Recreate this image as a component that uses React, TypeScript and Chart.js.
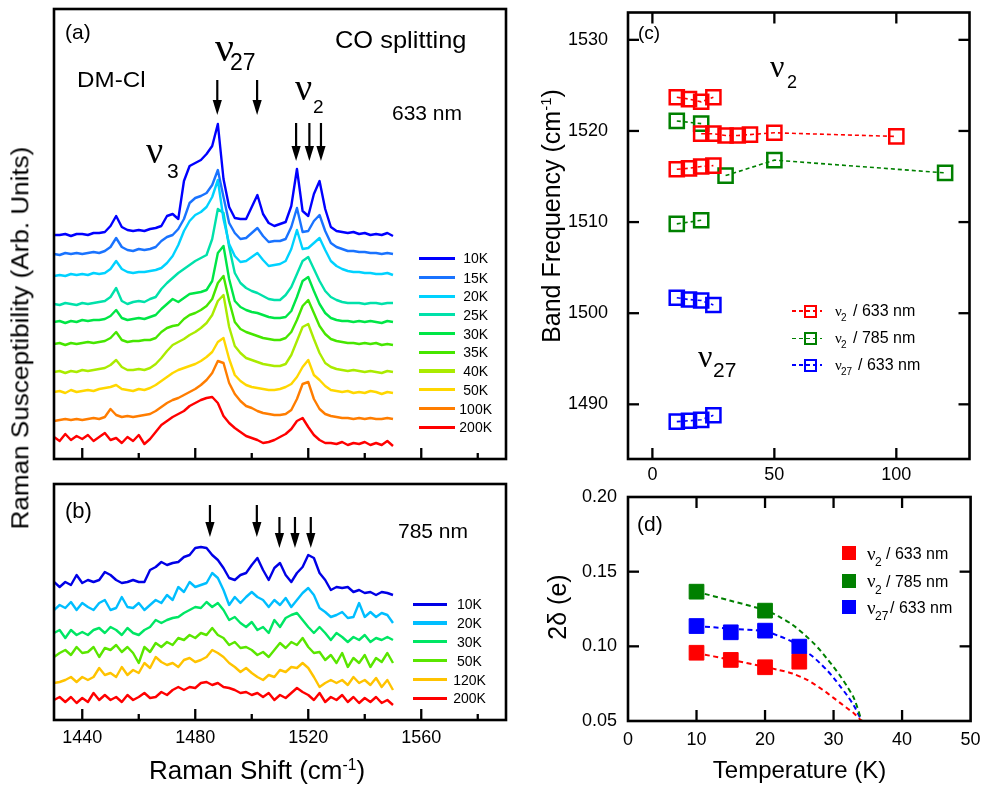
import React, { useEffect, useRef } from "react";
import { Chart, registerables } from "chart.js";

Chart.register(...registerables);

const FONT = "'Liberation Sans', Arial, Helvetica, sans-serif";
const NU_FONT = "'Liberation Serif', 'Times New Roman', serif";
const FIG_W = 982;
const FIG_H = 787;

// ---------------- Panels (a)/(b): Raman shift grid (cm^-1) ----------------
const ramanX = [
  1430, 1432, 1434, 1436, 1438, 1440, 1442, 1444, 1446, 1448,
  1450, 1452, 1454, 1456, 1458, 1460, 1462, 1464, 1466, 1468,
  1470, 1472, 1474, 1476, 1478, 1480, 1482, 1484, 1486, 1488,
  1490, 1492, 1494, 1496, 1498, 1500, 1502, 1504, 1506, 1508,
  1510, 1512, 1514, 1516, 1518, 1520, 1522, 1524, 1526, 1528,
  1530, 1532, 1534, 1536, 1538, 1540, 1542, 1544, 1546, 1548,
  1550,
];
const ramanMajorTicks = [1440, 1480, 1520, 1560];
const ramanMinorTicks = [1460, 1500, 1540, 1580];

// Panel (a): 633 nm spectra (arb. units, stacked with offsets)
const labelsA = ["10K", "15K", "20K", "25K", "30K", "35K", "40K", "50K", "100K", "200K"];
const colorsA = [
  "rgb(0,0,255)", "rgb(25,115,255)", "rgb(0,210,255)", "rgb(0,225,170)", "rgb(0,230,70)",
  "rgb(70,230,0)", "rgb(170,235,0)", "rgb(255,215,0)", "rgb(255,125,0)", "rgb(255,0,0)",
];
const a10K = [224,224,225,223,225,225,224,226,226,227,233,243,232,229,228,229,228,230,231,233,243,245,240,278,293,296,299,305,313,335,280,252,241,240,240,252,264,245,236,233,235,237,253,290,248,243,265,278,250,232,228,227,226,227,225,226,224,225,224,226,223];
const a15K = [205,204,206,205,206,205,206,207,206,208,212,221,212,209,208,210,209,210,212,218,222,224,230,240,256,261,263,266,274,289,262,236,226,220,221,226,231,223,217,218,218,220,232,251,227,228,238,244,228,216,212,210,208,208,207,207,206,206,205,206,205];
const a20K = [183,184,183,185,184,185,184,186,185,186,190,198,190,187,186,187,187,188,189,191,196,203,214,228,238,244,247,252,262,279,240,215,203,197,198,202,206,199,193,194,195,198,210,229,210,211,216,221,209,198,193,190,188,187,187,186,186,185,185,186,184];
const a25K = [155,154,156,155,154,156,155,156,157,158,162,171,158,155,157,158,157,160,162,170,176,181,186,190,194,198,201,204,220,250,246,212,186,176,171,168,166,163,160,159,159,164,172,185,198,202,190,178,168,162,159,157,156,156,156,155,156,156,155,156,156];
const a30K = [137,138,136,138,137,139,138,139,139,140,143,149,141,139,140,141,140,142,144,150,155,160,157,161,165,166,167,169,178,206,213,180,158,152,149,147,146,144,142,141,141,142,148,162,178,182,168,155,146,141,139,138,138,137,138,137,138,137,136,138,137];
const a35K = [115,116,114,116,115,116,117,116,117,118,121,127,119,117,118,118,119,119,121,127,131,133,134,140,144,146,149,153,160,176,183,158,137,130,127,125,123,121,120,119,119,121,127,139,153,159,146,133,125,120,118,117,116,116,115,116,115,116,114,115,114];
const a40K = [87,88,86,88,87,89,88,89,90,91,94,99,92,89,89,90,89,91,95,101,108,114,117,120,124,127,131,136,144,158,164,132,113,106,101,99,97,95,94,93,93,95,104,118,132,135,120,106,96,92,90,89,88,89,88,87,88,87,86,88,87];
const a50K = [67,68,66,69,67,68,69,68,70,71,72,74,70,69,68,70,69,71,74,78,82,86,89,91,93,95,98,102,107,117,121,100,84,78,74,72,71,70,69,69,70,72,75,82,92,99,84,79,73,69,68,67,68,66,67,66,68,67,65,67,66];
const a100K = [38,39,40,39,40,39,40,41,40,42,50,44,42,43,42,43,44,45,48,52,56,59,61,64,67,70,74,79,86,98,96,76,65,58,53,51,48,46,45,44,44,45,49,60,75,77,60,50,45,43,42,41,41,40,41,40,41,40,40,41,40];
const a200K = [22,18,25,19,23,20,24,18,22,26,19,21,16,22,18,24,15,20,27,34,38,42,45,48,53,56,59,61,62,56,43,36,31,27,23,21,19,16,17,19,22,25,30,38,41,32,24,19,16,16,15,17,14,16,15,17,14,16,14,18,13];
const seriesA = [a10K, a15K, a20K, a25K, a30K, a35K, a40K, a50K, a100K, a200K];

// Panel (b): 785 nm spectra
const labelsB = ["10K", "20K", "30K", "50K", "120K", "200K"];
const colorsB = ["rgb(0,0,230)", "rgb(0,190,255)", "rgb(0,230,100)", "rgb(90,230,0)", "rgb(255,195,0)", "rgb(255,0,0)"];
const b10K = [138,133,138,135,145,137,140,138,140,148,145,140,137,138,140,138,138,150,153,158,155,157,158,163,165,172,173,172,165,160,152,142,140,145,147,155,162,150,140,152,157,145,138,147,153,165,162,147,140,130,133,132,133,128,130,127,128,125,128,127,125];
const b20K = [110,115,112,118,110,117,113,110,117,120,110,112,123,113,112,117,110,115,120,117,125,120,133,128,138,133,135,137,147,142,130,115,123,117,123,128,123,120,113,120,115,122,113,120,127,132,125,112,108,103,105,108,102,103,117,103,108,103,107,105,97];
const b30K = [87,90,82,90,85,88,85,90,92,87,93,90,85,92,87,85,90,93,100,97,100,102,103,107,110,113,112,118,113,117,110,100,103,97,93,98,90,93,87,100,93,102,105,107,100,93,87,93,87,80,87,83,78,83,80,85,78,82,80,83,80];
const b50K = [63,67,70,65,73,67,68,73,63,72,70,75,68,73,67,57,73,68,77,73,78,75,82,80,85,82,87,85,92,85,82,75,78,72,73,70,65,68,63,70,77,72,78,75,82,73,67,68,60,65,57,67,53,62,57,65,53,62,58,67,57];
const b120K = [37,38,40,43,38,43,40,43,52,45,47,43,53,45,50,47,57,52,63,58,55,57,53,60,62,58,60,63,70,67,63,57,53,48,52,47,43,40,45,43,50,48,53,52,57,52,43,33,37,40,37,40,35,43,37,40,35,42,33,40,30];
const b200K = [20,23,18,23,17,22,18,27,20,25,20,23,18,25,20,23,27,22,23,28,25,30,33,30,33,32,37,38,35,37,33,32,30,27,28,25,27,23,27,20,25,22,27,32,28,25,20,27,18,23,20,25,18,23,17,22,18,23,17,20,15];
const seriesB = [b10K, b20K, b30K, b50K, b120K, b200K];

// Arrow annotations (x in cm^-1, tail / tip in plot units)
const arrowsAX = [1487.8, 1501.9, 1515.7, 1520.4, 1524.5];
const arrowsATail = [379, 379, 336, 336, 336];
const arrowsATip = [344, 344, 298, 298, 298];
const arrowsBX = [1485.2, 1501.8, 1509.8, 1515.3, 1520.9];
const arrowsBTail = [215, 215, 203, 203, 203];
const arrowsBTip = [183, 183, 172, 172, 172];

// ---------------- Panel (c): band frequency vs temperature ----------------
const RED = "#ff0000";
const GREEN = "#008000";
const BLUE = "#0000ff";
const cTicksX = [0, 50, 100];
const cTicksY = [1490, 1500, 1510, 1520, 1530];
const c633UpperT = [10, 15, 20, 25];
const c633Upper = [1523.7, 1523.5, 1523.2, 1523.7];
const c633MidT = [20, 25, 30, 35, 40, 50, 100];
const c633Mid = [1519.7, 1519.7, 1519.5, 1519.5, 1519.6, 1519.8, 1519.4];
const c633LowT = [10, 15, 20, 25];
const c633Low = [1515.8, 1515.9, 1516.1, 1516.2];
const c785UpperT = [10, 20];
const c785Upper = [1521.1, 1520.8];
const c785MidT = [30, 50, 120];
const c785Mid = [1515.1, 1516.8, 1515.4];
const c785LowT = [10, 20];
const c785Low = [1509.8, 1510.2];
const c27UpperT = [10, 15, 20, 25];
const c27Upper = [1501.7, 1501.5, 1501.4, 1500.9];
const c27LowT = [10, 15, 20, 25];
const c27Low = [1488.1, 1488.2, 1488.3, 1488.8];

// ---------------- Panel (d): 2 delta vs temperature ----------------
const dTicksX = [0, 10, 20, 30, 40, 50];
const dTicksY = [0.05, 0.1, 0.15, 0.2];
const dT633 = [10, 15, 20, 25];
const d2v633 = [0.0957, 0.0909, 0.086, 0.0897];
const dT785 = [10, 20];
const d2v785 = [0.1366, 0.1239];
const dT27 = [10, 15, 20, 25];
const d27v633 = [0.1136, 0.1094, 0.1105, 0.0998];
const fitT = [10, 15, 20, 22, 24, 26, 27, 28, 29, 30, 31, 32, 33, 34.1];
const fit2v633 = [0.0955, 0.091, 0.0862, 0.0842, 0.0818, 0.0779, 0.0752, 0.0722, 0.069, 0.0655, 0.062, 0.0585, 0.055, 0.05];
const fit2v785 = [0.1366, 0.1305, 0.1242, 0.12, 0.1145, 0.1068, 0.1025, 0.0976, 0.092, 0.0862, 0.08, 0.073, 0.065, 0.05];
const fit27v633 = [0.1136, 0.1118, 0.11, 0.107, 0.103, 0.0964, 0.093, 0.0888, 0.0842, 0.079, 0.073, 0.067, 0.06, 0.05];

// ---------------- helpers ----------------
type Rect = { L: number; T: number; R: number; B: number };
const rectA: Rect = { L: 54, T: 9, R: 506, B: 459 };
const rectB: Rect = { L: 54, T: 484, R: 506, B: 720 };
const rectC: Rect = { L: 628, T: 9, R: 970, B: 459 };
const rectD: Rect = { L: 628, T: 497, R: 971, B: 721 };

const padFor = (r: Rect, leftW: number, bottomH: number) => ({
  left: r.L - leftW,
  top: r.T,
  right: FIG_W - r.R,
  bottom: FIG_H - r.B - bottomH,
});

const framePlugin = {
  id: "frameTicks",
  afterDatasetsDraw(chart: any, _args: any, opts: any) {
    const { ctx, chartArea: a, scales } = chart;
    const xs = scales.x;
    const ys = scales.y;
    ctx.save();
    ctx.strokeStyle = "#000";
    ctx.fillStyle = "#000";
    ctx.lineCap = "butt";
    ctx.setLineDash([]);
    const seg = (x1: number, y1: number, x2: number, y2: number) => {
      ctx.beginPath();
      ctx.moveTo(x1, y1);
      ctx.lineTo(x2, y2);
      ctx.stroke();
    };
    ctx.lineWidth = 2.3;
    const xT = (vals: number[], len: number) => {
      for (const v of vals) {
        const px = xs.getPixelForValue(v);
        if (opts.xBottom) seg(px, a.bottom, px, a.bottom - len);
        if (opts.xTop) seg(px, a.top, px, a.top + len);
      }
    };
    const yT = (vals: number[], len: number) => {
      for (const v of vals) {
        const py = ys.getPixelForValue(v);
        if (opts.yLeft) seg(a.left, py, a.left + len, py);
        if (opts.yRight) seg(a.right, py, a.right - len, py);
      }
    };
    xT(opts.xMajor || [], 11);
    xT(opts.xMinor || [], 6);
    yT(opts.yMajor || [], 11);
    const ax: number[] = opts.arrowX || [];
    const at: number[] = opts.arrowTail || [];
    const ap: number[] = opts.arrowTip || [];
    for (let i = 0; i < ax.length; i++) {
      const px = xs.getPixelForValue(ax[i]);
      const p0 = ys.getPixelForValue(at[i]);
      const p1 = ys.getPixelForValue(ap[i]);
      ctx.lineWidth = 2.2;
      seg(px, p0, px, p1 - 12);
      ctx.beginPath();
      ctx.moveTo(px - 4.6, p1 - 15);
      ctx.lineTo(px + 4.6, p1 - 15);
      ctx.lineTo(px, p1);
      ctx.closePath();
      ctx.fill();
    }
    ctx.lineWidth = 2.6;
    ctx.lineJoin = "miter";
    ctx.strokeRect(a.left, a.top, a.right - a.left, a.bottom - a.top);
    ctx.restore();
  },
};

const common = {
  responsive: false,
  maintainAspectRatio: false,
  animation: false,
  devicePixelRatio: 1,
  events: [] as string[],
};

const hiddenScale = (min: number, max: number) => ({ type: "linear", min, max, display: false });

const labelScale = (
  min: number,
  max: number,
  ticks: number[],
  size: number,
  padding: number,
  fixed: number,
  isX: boolean,
  fmt: (v: number) => string
) => ({
  type: "linear",
  min,
  max,
  position: isX ? "bottom" : "left",
  grid: { display: false, drawTicks: false },
  border: { display: false },
  ticks: {
    color: "#000",
    font: { family: FONT, size },
    padding,
    maxRotation: 0,
    autoSkip: false,
    callback: (v: any) => fmt(Number(v)),
  },
  afterBuildTicks: (s: any) => {
    s.ticks = ticks.map((value) => ({ value }));
  },
  afterFit: (s: any) => {
    if (isX) s.height = fixed;
    else s.width = fixed;
    s.paddingTop = 0;
    s.paddingBottom = 0;
    s.paddingLeft = 0;
    s.paddingRight = 0;
  },
});

const spectra = (series: number[][], colors: string[], labels: string[]) =>
  series.map((s, i) => ({
    label: labels[i],
    data: ramanX.map((x, j) => ({ x, y: s[j] })),
    borderColor: colors[i],
    borderWidth: 2.4,
    borderJoinStyle: "round",
    pointRadius: 0,
    tension: 0,
    fill: false,
  }));

const openSeries = (T: number[], v: number[], color: string) => ({
  data: T.map((t, i) => ({ x: t, y: v[i] })),
  showLine: true,
  borderColor: color,
  borderWidth: 1.6,
  borderDash: [4, 3],
  pointStyle: "rect",
  pointRadius: 10,
  pointBorderWidth: 2.5,
  pointBorderColor: color,
  pointBackgroundColor: "rgba(0,0,0,0)",
  backgroundColor: "rgba(0,0,0,0)",
  tension: 0,
  fill: false,
});

const configA = {
  type: "line",
  data: { datasets: spectra(seriesA, colorsA, labelsA) },
  options: {
    ...common,
    layout: { padding: padFor(rectA, 0, 0) },
    scales: { x: hiddenScale(1430, 1590), y: hiddenScale(0, 450) },
    plugins: {
      legend: { display: false },
      tooltip: { enabled: false },
      frameTicks: {
        xMajor: ramanMajorTicks,
        xMinor: ramanMinorTicks,
        xBottom: true,
        arrowX: arrowsAX,
        arrowTail: arrowsATail,
        arrowTip: arrowsATip,
      },
    },
  },
  plugins: [framePlugin],
};

const configB = {
  type: "line",
  data: { datasets: spectra(seriesB, colorsB, labelsB) },
  options: {
    ...common,
    layout: { padding: padFor(rectB, 0, 30) },
    scales: {
      x: labelScale(1430, 1590, ramanMajorTicks, 18, 7, 30, true, (v) => String(v)),
      y: hiddenScale(0, 236),
    },
    plugins: {
      legend: { display: false },
      tooltip: { enabled: false },
      frameTicks: {
        xMajor: ramanMajorTicks,
        xMinor: ramanMinorTicks,
        xBottom: true,
        arrowX: arrowsBX,
        arrowTail: arrowsBTail,
        arrowTip: arrowsBTip,
      },
    },
  },
  plugins: [framePlugin],
};

const configC = {
  type: "line",
  data: {
    datasets: [
      openSeries(c633UpperT, c633Upper, RED),
      openSeries(c633MidT, c633Mid, RED),
      openSeries(c633LowT, c633Low, RED),
      openSeries(c785UpperT, c785Upper, GREEN),
      openSeries(c785MidT, c785Mid, GREEN),
      openSeries(c785LowT, c785Low, GREEN),
      openSeries(c27UpperT, c27Upper, BLUE),
      openSeries(c27LowT, c27Low, BLUE),
    ],
  },
  options: {
    ...common,
    layout: { padding: padFor(rectC, 70, 30) },
    scales: {
      x: labelScale(-10, 130, cTicksX, 18, 5, 30, true, (v) => String(v)),
      y: labelScale(1484, 1533, cTicksY, 18, 20, 70, false, (v) => String(v)),
    },
    plugins: {
      legend: { display: false },
      tooltip: { enabled: false },
      frameTicks: { xMajor: cTicksX, xBottom: true, xTop: true, yMajor: cTicksY, yLeft: true, yRight: true },
    },
  },
  plugins: [framePlugin],
};

const filledSeries = (T: number[], v: number[], color: string) => ({
  data: T.map((t, i) => ({ x: t, y: v[i] })),
  showLine: false,
  pointStyle: "rect",
  pointRadius: 10.4,
  pointBorderWidth: 1,
  pointBorderColor: color,
  pointBackgroundColor: color,
  borderColor: color,
  backgroundColor: color,
  order: 1,
});
const fitSeries = (v: number[], color: string) => ({
  data: fitT.map((t, i) => ({ x: t, y: v[i] })),
  showLine: true,
  borderColor: color,
  borderWidth: 2,
  borderDash: [5, 3.5],
  pointRadius: 0,
  tension: 0.3,
  fill: false,
  order: 2,
});

const configD = {
  type: "line",
  data: {
    datasets: [
      filledSeries(dT633, d2v633, RED),
      filledSeries(dT785, d2v785, GREEN),
      filledSeries(dT27, d27v633, BLUE),
      fitSeries(fit2v633, RED),
      fitSeries(fit2v785, GREEN),
      fitSeries(fit27v633, BLUE),
    ],
  },
  options: {
    ...common,
    layout: { padding: padFor(rectD, 70, 30) },
    scales: {
      x: labelScale(0, 50, dTicksX, 18, 8, 30, true, (v) => String(v)),
      y: labelScale(0.05, 0.2, dTicksY, 18, 11, 70, false, (v) => v.toFixed(2)),
    },
    plugins: {
      legend: { display: false },
      tooltip: { enabled: false },
      frameTicks: { xMajor: [10, 20, 30, 40], xBottom: true, xTop: true, yMajor: [0.1, 0.15], yLeft: true, yRight: true },
    },
  },
  plugins: [framePlugin],
};

function ChartCanvas({ config }: { config: any }) {
  const ref = useRef<HTMLCanvasElement>(null);
  useEffect(() => {
    const chart = new Chart(ref.current as HTMLCanvasElement, config);
    return () => chart.destroy();
  }, []);
  return (
    <canvas
      ref={ref}
      width={FIG_W}
      height={FIG_H}
      style={{ position: "absolute", left: 0, top: 0, width: FIG_W, height: FIG_H }}
    />
  );
}

function Txt({ x, base, size, children, anchor = "start", sx = 1, family = FONT }: any) {
  const tx = anchor === "middle" ? "translateX(-50%)" : anchor === "end" ? "translateX(-100%)" : "";
  return (
    <div
      style={{
        position: "absolute",
        left: x,
        top: base - 0.8465 * size,
        fontSize: size,
        lineHeight: `${size}px`,
        fontFamily: family,
        whiteSpace: "nowrap",
        color: "#000",
        transform: `${tx} scaleX(${sx})`,
        transformOrigin: anchor === "middle" ? "center" : anchor === "end" ? "right" : "left",
      }}
    >
      {children}
    </div>
  );
}

const Nu = (p: any) => (
  <Txt {...p} family={NU_FONT}>
    ν
  </Txt>
);

function VText({ cx, cy, size, children, sx = 1 }: any) {
  return (
    <div
      style={{
        position: "absolute",
        left: cx,
        top: cy,
        fontSize: size,
        lineHeight: `${size}px`,
        fontFamily: FONT,
        whiteSpace: "nowrap",
        color: "#000",
        transform: `translate(-50%, -50%) rotate(-90deg) scaleX(${sx})`,
      }}
    >
      {children}
    </div>
  );
}

const Sup = ({ children }: any) => (
  <span style={{ fontSize: "0.6em", position: "relative", top: "-0.6em", lineHeight: 0 }}>{children}</span>
);

const legendRowsA = [258.3, 277.5, 296.2, 314.9, 333.6, 352.3, 371, 389.7, 408.4, 427.1];
const legendRowsB = [604.3, 623, 641.8, 660.6, 679.4, 698.2];
const legendRowsC = [311, 338.3, 365];
const legendRowsD = [553.3, 580.7, 607.3];
const legendC = [
  { color: RED, sub: "2", restX: 853 },
  { color: GREEN, sub: "2", restX: 853 },
  { color: BLUE, sub: "27", restX: 858 },
];
const legendD = [
  { color: RED, sub: "2", restX: 886, rest: "/ 633 nm" },
  { color: GREEN, sub: "2", restX: 886, rest: "/ 785 nm" },
  { color: BLUE, sub: "27", restX: 890, rest: "/ 633 nm" },
];
const legendCText = ["/ 633 nm", "/ 785 nm", "/ 633 nm"];

export default function App() {
  return (
    <div
      style={{
        position: "absolute",
        left: 0,
        top: 0,
        width: FIG_W,
        height: FIG_H,
        background: "#fff",
        overflow: "hidden",
      }}
    >
      <ChartCanvas config={configA} />
      <ChartCanvas config={configB} />
      <ChartCanvas config={configC} />
      <ChartCanvas config={configD} />

      {/* Axis titles */}
      <VText cx={20.5} cy={337.5} size={23.3} sx={1.12}>
        Raman Susceptibility (Arb. Units)
      </VText>
      <Txt x={257} base={779} size={26} anchor="middle">
        Raman Shift (cm<Sup>-1</Sup>)
      </Txt>
      <VText cx={551} cy={216} size={25}>
        Band Frequency (cm<Sup>-1</Sup>)
      </VText>
      <VText cx={557} cy={606.5} size={25}>
        2δ (e)
      </VText>
      <Txt x={799.5} base={778} size={24} anchor="middle">
        Temperature (K)
      </Txt>

      {/* Panel (a) annotations */}
      <Txt x={65} base={38.6} size={21}>(a)</Txt>
      <Txt x={335} base={48} size={24} sx={1.06}>CO splitting</Txt>
      <Txt x={77} base={88} size={22} sx={1.1}>DM-Cl</Txt>
      <Txt x={392} base={119.5} size={20} sx={1.05}>633 nm</Txt>
      <Nu x={215} base={62} size={42} />
      <Txt x={230} base={70} size={23}>27</Txt>
      <Nu x={295} base={100} size={38} />
      <Txt x={313} base={113} size={19}>2</Txt>
      <Nu x={146} base={163} size={38} />
      <Txt x={167} base={178} size={21}>3</Txt>

      {/* Panel (a) legend */}
      {labelsA.map((lab, i) => (
        <React.Fragment key={"la" + i}>
          <div
            style={{
              position: "absolute",
              left: 419,
              top: legendRowsA[i] - 1.6,
              width: 36,
              height: 3.2,
              background: colorsA[i],
            }}
          />
          <Txt x={475.7} base={legendRowsA[i] + 5} size={14} anchor="middle">
            {lab}
          </Txt>
        </React.Fragment>
      ))}

      {/* Panel (b) annotations */}
      <Txt x={65} base={518.4} size={22}>(b)</Txt>
      <Txt x={398} base={538} size={21}>785 nm</Txt>
      {labelsB.map((lab, i) => (
        <React.Fragment key={"lb" + i}>
          <div
            style={{
              position: "absolute",
              left: 413,
              top: legendRowsB[i] - 1.6,
              width: 34,
              height: 3.2,
              background: colorsB[i],
            }}
          />
          <Txt x={469.5} base={legendRowsB[i] + 5} size={14} anchor="middle">
            {lab}
          </Txt>
        </React.Fragment>
      ))}

      {/* Panel (c) annotations */}
      <Txt x={638} base={39} size={19}>(c)</Txt>
      <Nu x={770} base={77} size={32} />
      <Txt x={787} base={88} size={18}>2</Txt>
      <Nu x={698} base={367} size={32} />
      <Txt x={713} base={377} size={21}>27</Txt>
      {legendC.map((e, i) => (
        <React.Fragment key={"lc" + i}>
          <div
            style={{
              position: "absolute",
              left: 792,
              top: legendRowsC[i] - 0.8,
              width: 30,
              height: 1.6,
              background: `repeating-linear-gradient(to right, ${e.color} 0 4px, transparent 4px 7px)`,
            }}
          />
          <div
            style={{
              position: "absolute",
              left: 804,
              top: legendRowsC[i] - 6.5,
              width: 13,
              height: 13,
              boxSizing: "border-box",
              border: `2px solid ${e.color}`,
            }}
          />
          <Nu x={835} base={legendRowsC[i] + 5.5} size={15} />
          <Txt x={841} base={legendRowsC[i] + 10} size={10}>{e.sub}</Txt>
          <Txt x={e.restX} base={legendRowsC[i] + 5.5} size={16}>{legendCText[i]}</Txt>
        </React.Fragment>
      ))}

      {/* Panel (d) annotations */}
      <Txt x={637} base={530.6} size={21}>(d)</Txt>
      {legendD.map((e, i) => (
        <React.Fragment key={"ld" + i}>
          <div
            style={{
              position: "absolute",
              left: 842,
              top: legendRowsD[i] - 7,
              width: 14,
              height: 14,
              background: e.color,
            }}
          />
          <Nu x={867} base={legendRowsD[i] + 6.5} size={19} />
          <Txt x={875} base={legendRowsD[i] + 13} size={12}>{e.sub}</Txt>
          <Txt x={e.restX} base={legendRowsD[i] + 6.5} size={16}>{e.rest}</Txt>
        </React.Fragment>
      ))}
    </div>
  );
}
